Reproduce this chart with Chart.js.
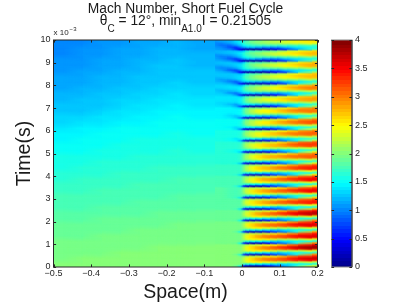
<!DOCTYPE html>
<html><head><meta charset="utf-8">
<script src="https://cdn.jsdelivr.net/npm/chart.js@4"></script>
<style>html,body{margin:0;padding:0;background:#fff}
#wrap{position:relative;width:407px;height:303px;overflow:hidden}
canvas{position:absolute;left:0;top:0;filter:blur(.4px)}</style></head>
<body><div id="wrap"><canvas id="main" width="407" height="303"></canvas><canvas id="bar" width="407" height="303"></canvas></div>
<script>
const xTickValues=[-0.5,-0.4,-0.3,-0.2,-0.1,0,0.1,0.2];
const yTickValues=[0,1,2,3,4,5,6,7,8,9,10];
const barTickValues=[0,0.5,1,1.5,2,2.5,3,3.5,4];
const upstreamSpace=[-0.475,-0.425,-0.375,-0.325,-0.275,-0.225,-0.175,-0.125];
const upstreamRowHeight=0.25;
const upstreamMach=[
[2.00,2.00,2.01,2.01,2.02,2.02,2.03,2.03],[1.99,2.00,2.00,2.01,2.01,2.02,2.02,2.02],[1.98,1.98,1.99,2.00,2.00,2.01,2.01,2.01],[1.96,1.97,1.98,1.99,1.99,2.00,2.00,2.00],
[1.94,1.95,1.96,1.97,1.98,1.99,1.99,1.99],[1.92,1.93,1.94,1.95,1.96,1.97,1.98,1.98],[1.90,1.91,1.92,1.93,1.94,1.95,1.96,1.96],[1.88,1.89,1.90,1.91,1.92,1.93,1.94,1.94],
[1.85,1.86,1.88,1.89,1.90,1.91,1.92,1.92],[1.83,1.84,1.85,1.86,1.87,1.89,1.90,1.90],[1.80,1.81,1.82,1.84,1.85,1.86,1.87,1.87],[1.78,1.79,1.80,1.81,1.82,1.84,1.85,1.85],
[1.75,1.76,1.77,1.79,1.80,1.81,1.82,1.82],[1.73,1.74,1.75,1.76,1.77,1.79,1.80,1.80],[1.70,1.71,1.72,1.74,1.75,1.76,1.77,1.77],[1.68,1.69,1.70,1.71,1.72,1.74,1.75,1.75],
[1.65,1.66,1.67,1.69,1.70,1.71,1.72,1.72],[1.62,1.63,1.65,1.66,1.67,1.69,1.70,1.69],[1.60,1.61,1.63,1.64,1.65,1.67,1.68,1.67],[1.57,1.58,1.60,1.61,1.63,1.64,1.65,1.64],
[1.54,1.56,1.58,1.59,1.61,1.62,1.63,1.62],[1.51,1.53,1.56,1.58,1.59,1.60,1.61,1.60],[1.48,1.51,1.54,1.56,1.57,1.58,1.59,1.58],[1.44,1.48,1.51,1.54,1.55,1.56,1.57,1.56],
[1.40,1.44,1.47,1.50,1.52,1.53,1.54,1.53],[1.36,1.40,1.43,1.46,1.49,1.51,1.52,1.50],[1.32,1.35,1.39,1.43,1.46,1.48,1.50,1.47],[1.28,1.31,1.35,1.39,1.43,1.46,1.47,1.44],
[1.25,1.28,1.31,1.35,1.39,1.43,1.44,1.41],[1.22,1.25,1.28,1.32,1.36,1.40,1.42,1.38],[1.19,1.22,1.25,1.29,1.33,1.37,1.39,1.35],[1.17,1.20,1.23,1.26,1.30,1.34,1.36,1.32],
[1.15,1.18,1.21,1.24,1.27,1.31,1.33,1.30],[1.13,1.16,1.19,1.22,1.25,1.29,1.31,1.28],[1.11,1.14,1.17,1.20,1.23,1.27,1.29,1.26],[1.09,1.12,1.15,1.18,1.21,1.25,1.27,1.24],
[1.07,1.10,1.13,1.16,1.20,1.23,1.25,1.22],[1.05,1.08,1.11,1.15,1.18,1.21,1.23,1.20],[1.04,1.07,1.10,1.13,1.17,1.20,1.21,1.18],[1.03,1.05,1.08,1.12,1.15,1.18,1.19,1.16]];
const downstreamEdges=[-0.1,-0.07,-0.04,-0.02,-0.01,0,0.01,0.02,0.04,0.06,0.08,0.1,0.13,0.16,0.2];
const firstStreakTime=0.057, cyclePeriod=0.5023;
const cycle00=[[2.03,2.03,2,1.9,1.55,.45,.3,.2,.25,.55,.8,1.15,1.7,2.3],[2.03,2.03,2,2,1.95,1.7,1.6,1.5,1.5,1.4,1.4,1.4,1.5,1.6],[2.03,2.03,2,2,2,2.2,2.4,2.5,2.5,2.4,2.3,2.2,2.2,2.3],[2.03,2.03,2,2,2,2.3,2.5,2.7,2.9,3,3.1,3.2,3.4,3.5],[2.03,2.03,2,2,2,2.3,2.5,2.7,2.9,3,3.1,3.3,3.5,3.7],[2.03,2.03,2,2,1.95,2.1,2.3,2.3,2.4,2.5,2.6,2.9,3.2,3.4]];
const cycle01=[[2.01,2.01,2,1.9,1.55,.45,.3,.2,.25,.55,.8,1.1,1.7,2.9],[2.01,2.01,2,2,1.95,1.7,1.6,1.5,1.5,1.4,1.3,1.4,1.5,1.6],[2.01,2.01,2,2,2,2.2,2.4,2.5,2.5,2.5,2.3,2.2,2.3,2.4],[2.01,2.01,2,2,2,2.3,2.5,2.7,2.9,3,3.1,3.3,3.6,3.8],[2.01,2.01,2,2,2,2.3,2.5,2.7,2.9,3,3.2,3.4,3.7,3.9],[2.01,2.01,2,2,1.95,2.1,2.3,2.3,2.4,2.5,2.6,2.9,3.2,3.6]];
const cycle02=[[1.99,1.99,1.98,1.88,1.5,.45,.3,.2,.25,.55,.8,1.1,1.7,2.9],[1.99,1.99,1.98,1.98,1.92,1.7,1.6,1.5,1.5,1.4,1.3,1.4,1.5,1.6],[1.99,1.99,1.98,1.98,1.97,2.2,2.4,2.5,2.5,2.5,2.3,2.2,2.3,2.4],[1.99,1.99,1.98,1.98,1.97,2.3,2.5,2.7,2.9,3,3.1,3.2,3.4,3.6],[1.99,1.99,1.98,1.98,1.97,2.3,2.5,2.7,2.9,3,3.1,3.3,3.5,3.6],[1.99,1.99,1.98,1.98,1.95,2.1,2.3,2.3,2.3,2.4,2.6,2.8,3.1,3.4]];
const cycle03=[[1.96,1.96,1.95,1.85,1.48,.45,.3,.2,.25,.55,.8,1.1,1.7,2.8],[1.96,1.96,1.95,1.95,1.9,1.7,1.6,1.5,1.5,1.4,1.3,1.4,1.5,1.6],[1.96,1.96,1.95,1.95,1.95,2.1,2.3,2.5,2.5,2.4,2.3,2.2,2.3,2.4],[1.96,1.96,1.95,1.95,1.95,2.2,2.5,2.7,2.9,3,3.1,3.2,3.4,3.6],[1.96,1.96,1.95,1.95,1.95,2.2,2.5,2.7,2.9,3,3.1,3.3,3.5,3.6],[1.96,1.96,1.95,1.95,1.9,2.1,2.3,2.3,2.3,2.4,2.6,2.8,3.1,3.4]];
const cycle04=[[1.92,1.92,1.91,1.82,1.45,.45,.3,.2,.25,.55,.8,1.1,1.7,2.9],[1.92,1.92,1.91,1.9,1.85,1.7,1.6,1.5,1.5,1.4,1.3,1.4,1.5,1.6],[1.92,1.92,1.91,1.91,1.91,2.1,2.3,2.5,2.5,2.4,2.3,2.2,2.3,2.4],[1.92,1.92,1.91,1.91,1.91,2.2,2.4,2.7,2.9,3,3.1,3.3,3.5,3.7],[1.92,1.92,1.91,1.91,1.91,2.2,2.4,2.7,2.9,3,3.2,3.4,3.6,3.8],[1.92,1.92,1.91,1.91,1.87,2,2.2,2.3,2.3,2.4,2.6,2.9,3.2,3.5]];
const cycle05=[[1.87,1.87,1.86,1.77,1.42,.45,.3,.2,.25,.55,.8,1.1,1.7,2.7],[1.87,1.87,1.86,1.85,1.8,1.7,1.6,1.5,1.45,1.4,1.3,1.4,1.5,1.6],[1.87,1.87,1.86,1.86,1.87,2.1,2.3,2.4,2.5,2.4,2.3,2.2,2.3,2.4],[1.87,1.87,1.86,1.86,1.87,2.2,2.4,2.6,2.8,2.9,3,3.1,3.3,3.4],[1.87,1.87,1.86,1.86,1.87,2.2,2.4,2.6,2.8,2.9,3,3.2,3.3,3.4],[1.87,1.87,1.86,1.86,1.84,2,2.2,2.2,2.3,2.3,2.5,2.7,3,3.2]];
const cycle06=[[1.82,1.82,1.81,1.72,1.38,.45,.3,.2,.25,.5,.8,1.1,1.7,2.6],[1.82,1.82,1.81,1.8,1.76,1.7,1.6,1.5,1.45,1.4,1.3,1.4,1.5,1.6],[1.82,1.82,1.81,1.81,1.82,2.05,2.25,2.4,2.5,2.4,2.3,2.2,2.3,2.4],[1.82,1.82,1.81,1.81,1.82,2.15,2.35,2.6,2.8,2.9,3,3.1,3.3,3.5],[1.82,1.82,1.81,1.81,1.82,2.15,2.35,2.6,2.8,2.9,3,3.2,3.4,3.5],[1.82,1.82,1.81,1.81,1.79,2,2.15,2.2,2.25,2.3,2.5,2.8,3,3.3]];
const cycle07=[[1.77,1.77,1.76,1.67,1.35,.45,.3,.2,.25,.5,.8,1.1,1.7,2.6],[1.77,1.77,1.76,1.75,1.73,1.7,1.6,1.5,1.45,1.35,1.3,1.4,1.5,1.6],[1.77,1.77,1.76,1.76,1.77,2,2.2,2.4,2.45,2.4,2.3,2.2,2.3,2.4],[1.77,1.77,1.76,1.76,1.77,2.1,2.3,2.55,2.75,2.85,2.95,3.1,3.3,3.5],[1.77,1.77,1.76,1.76,1.77,2.1,2.3,2.55,2.75,2.85,3,3.2,3.4,3.5],[1.77,1.77,1.76,1.76,1.75,1.95,2.1,2.2,2.2,2.3,2.5,2.75,3,3.3]];
const cycle08=[[1.72,1.72,1.71,1.63,1.32,.45,.3,.2,.25,.5,.8,1.1,1.7,2.5],[1.72,1.72,1.71,1.7,1.68,1.65,1.6,1.5,1.45,1.35,1.3,1.4,1.5,1.6],[1.72,1.72,1.71,1.71,1.74,2,2.15,2.35,2.45,2.35,2.25,2.2,2.3,2.4],[1.72,1.72,1.71,1.71,1.74,2.05,2.25,2.5,2.7,2.8,2.9,3.05,3.25,3.4],[1.72,1.72,1.71,1.71,1.74,2.05,2.25,2.5,2.7,2.8,2.95,3.1,3.3,3.4],[1.72,1.72,1.71,1.71,1.71,1.9,2.1,2.15,2.2,2.25,2.45,2.7,2.95,3.2]];
const cycle09=[[1.67,1.67,1.66,1.58,1.28,.45,.3,.2,.25,.45,.75,1.1,1.7,2.4],[1.67,1.67,1.65,1.63,1.63,1.65,1.6,1.5,1.4,1.35,1.3,1.4,1.5,1.65],[1.67,1.67,1.66,1.66,1.7,1.95,2.1,2.3,2.4,2.3,2.2,2.2,2.3,2.3],[1.67,1.67,1.66,1.66,1.7,2,2.2,2.45,2.65,2.75,2.8,2.9,3.05,3.15],[1.67,1.67,1.66,1.66,1.7,2,2.2,2.45,2.65,2.75,2.85,3,3.1,3.15],[1.67,1.67,1.66,1.66,1.67,1.9,2.05,2.15,2.2,2.25,2.4,2.6,2.85,3.05]];
const cycle10=[[1.63,1.63,1.61,1.53,1.25,.45,.3,.2,.25,.45,.7,1.1,1.6,2.4],[1.63,1.63,1.58,1.5,1.55,1.6,1.6,1.5,1.4,1.3,1.3,1.4,1.5,1.7],[1.63,1.63,1.63,1.63,1.7,1.9,2.1,2.3,2.4,2.3,2.2,2.2,2.3,2.3],[1.63,1.63,1.63,1.63,1.7,2,2.2,2.4,2.6,2.7,2.8,2.9,3.1,3.2],[1.63,1.63,1.63,1.63,1.7,2,2.2,2.4,2.6,2.7,2.8,3,3.2,3.3],[1.63,1.63,1.63,1.63,1.65,1.9,2,2.1,2.2,2.3,2.5,2.7,3,3.2]];
const cycle11=[[1.59,1.59,1.56,1.45,1.15,.42,.3,.2,.25,.45,.7,1.1,1.6,2.3],[1.59,1.59,1.52,1.43,1.5,1.6,1.55,1.5,1.4,1.3,1.3,1.4,1.5,1.7],[1.59,1.59,1.57,1.58,1.65,1.85,2.05,2.25,2.35,2.25,2.15,2.2,2.25,2.3],[1.59,1.59,1.58,1.6,1.65,1.95,2.15,2.35,2.55,2.65,2.7,2.85,3,3.1],[1.59,1.59,1.58,1.6,1.65,1.95,2.15,2.35,2.55,2.65,2.75,2.95,3.05,3.15],[1.59,1.59,1.58,1.57,1.58,1.8,2,2.05,2.15,2.25,2.4,2.6,2.85,3.05]];
const cycle12=[[1.53,1.53,1.5,1.37,1.05,.42,.25,.2,.25,.42,.65,1.05,1.6,2.3],[1.53,1.52,1.44,1.34,1.42,1.55,1.55,1.45,1.35,1.3,1.25,1.4,1.5,1.7],[1.53,1.53,1.51,1.52,1.62,1.8,2,2.2,2.3,2.2,2.15,2.2,2.25,2.3],[1.53,1.53,1.52,1.54,1.62,1.9,2.1,2.3,2.5,2.6,2.7,2.85,3,3.15],[1.53,1.53,1.52,1.54,1.62,1.9,2.1,2.3,2.5,2.6,2.75,2.95,3.1,3.2],[1.53,1.53,1.51,1.5,1.52,1.75,1.95,2,2.1,2.2,2.4,2.6,2.85,3.05]];
const cycle13=[[1.47,1.47,1.43,1.28,.95,.4,.25,.2,.25,.42,.65,1.05,1.6,2.2],[1.47,1.45,1.35,1.25,1.36,1.5,1.5,1.45,1.35,1.25,1.25,1.35,1.5,1.65],[1.47,1.46,1.43,1.45,1.56,1.75,1.95,2.1,2.2,2.15,2.1,2.15,2.2,2.3],[1.47,1.47,1.45,1.47,1.56,1.85,2.05,2.25,2.45,2.55,2.6,2.75,2.9,3],[1.47,1.47,1.47,1.47,1.56,1.85,2.05,2.25,2.45,2.55,2.65,2.85,3,3.05],[1.47,1.47,1.45,1.43,1.42,1.7,1.9,1.95,2.05,2.15,2.3,2.5,2.75,2.95]];
const cycle14=[[1.41,1.41,1.35,1.18,.8,.35,.2,.15,.2,.4,.6,1,1.55,2.1],[1.41,1.37,1.2,1.1,1.26,1.45,1.45,1.4,1.3,1.2,1.2,1.35,1.45,1.65],[1.41,1.37,1.35,1.37,1.47,1.7,1.9,2,2.1,2.05,2.05,2.1,2.15,2.2],[1.39,1.4,1.4,1.4,1.51,1.8,2,2.15,2.3,2.4,2.5,2.6,2.75,2.85],[1.41,1.41,1.42,1.42,1.51,1.8,2,2.15,2.35,2.45,2.55,2.7,2.8,2.9],[1.41,1.41,1.4,1.38,1.37,1.65,1.85,1.9,2,2.1,2.2,2.4,2.65,2.8]];
const cycle15=[[1.35,1.33,1.26,1.06,.65,.3,.2,.15,.2,.35,.55,.95,1.5,2.1],[1.35,1.26,1.06,.96,1.16,1.4,1.4,1.35,1.25,1.2,1.15,1.3,1.45,1.65],[1.35,1.21,1.21,1.31,1.42,1.65,1.8,1.95,2,2,2,2.05,2.15,2.2],[1.31,1.31,1.34,1.36,1.47,1.75,1.95,2.1,2.25,2.35,2.45,2.6,2.8,2.95],[1.33,1.36,1.38,1.38,1.47,1.75,1.95,2.1,2.3,2.4,2.5,2.7,2.9,3],[1.35,1.36,1.34,1.31,1.29,1.55,1.8,1.85,1.95,2.05,2.2,2.4,2.65,2.85]];
const cycle16=[[1.3,1.28,1.18,.97,.55,.25,.18,.15,.2,.35,.55,.9,1.45,2],[1.3,1.16,.97,.87,1.07,1.3,1.35,1.3,1.2,1.15,1.1,1.3,1.4,1.6],[1.28,1.11,1.12,1.22,1.37,1.55,1.75,1.85,1.95,1.95,1.95,2,2.05,2.15],[1.23,1.21,1.27,1.32,1.42,1.7,1.85,2,2.15,2.25,2.35,2.45,2.6,2.7],[1.25,1.29,1.31,1.34,1.42,1.7,1.85,2,2.2,2.3,2.4,2.55,2.7,2.8],[1.3,1.31,1.29,1.27,1.22,1.5,1.75,1.8,1.9,2,2.1,2.3,2.5,2.7]];
const cycle17=[[1.26,1.21,1.09,.87,.47,.22,.18,.12,.18,.3,.5,.85,1.4,2],[1.26,1.1,.87,.77,.97,1.2,1.3,1.25,1.15,1.1,1.05,1.25,1.4,1.6],[1.24,1.02,1.02,1.17,1.32,1.55,1.7,1.8,1.85,1.85,1.85,1.95,2.05,2.15],[1.17,1.12,1.22,1.28,1.43,1.65,1.8,1.95,2.1,2.2,2.3,2.45,2.6,2.75],[1.19,1.24,1.27,1.33,1.43,1.65,1.85,2,2.15,2.25,2.35,2.55,2.7,2.85],[1.24,1.27,1.25,1.23,1.23,1.45,1.75,1.8,1.85,1.95,2.1,2.3,2.5,2.7]];
const cycle18=[[1.22,1.17,1.03,.78,.43,.22,.18,.12,.18,.28,.47,.8,1.3,1.9],[1.22,1.05,.83,.73,.93,1.15,1.25,1.2,1.1,1.05,1.05,1.25,1.4,1.6],[1.2,.98,.98,1.13,1.28,1.5,1.65,1.75,1.8,1.8,1.8,1.85,1.95,2.05],[1.12,1.08,1.18,1.28,1.43,1.65,1.8,1.9,2.05,2.15,2.25,2.35,2.55,2.7],[1.14,1.2,1.26,1.33,1.48,1.65,1.85,1.95,2.1,2.2,2.3,2.5,2.65,2.8],[1.19,1.22,1.25,1.28,1.28,1.4,1.7,1.8,1.85,1.95,2.05,2.25,2.45,2.65]];
const cycle19=[[1.18,1.12,.98,.68,.38,.2,.15,.12,.15,.25,.4,.7,1.15,1.7],[1.18,1.02,.78,.68,.88,1.1,1.2,1.2,1.1,1,1,1.2,1.4,1.6],[1.16,.92,.88,1.08,1.28,1.5,1.6,1.7,1.7,1.7,1.7,1.7,1.7,1.8],[1.08,.98,1.13,1.28,1.48,1.7,1.8,1.9,2,2.1,2.1,2.2,2.3,2.4],[1.03,1.13,1.23,1.38,1.58,1.7,1.9,2,2.1,2.2,2.3,2.4,2.5,2.6],[1.12,1.17,1.23,1.33,1.33,1.3,1.7,1.8,1.9,2,2,2.2,2.4,2.5]];
const downstreamCycles=[cycle00,cycle01,cycle02,cycle03,cycle04,cycle05,cycle06,cycle07,cycle08,cycle09,cycle10,cycle11,cycle12,cycle13,cycle14,cycle15,cycle16,cycle17,cycle18,cycle19];
const barLevels=[0.03,0.09,0.16,0.22,0.28,0.34,0.41,0.47,0.53,0.59,0.66,0.72,0.78,0.84,0.91,0.97,1.03,1.09,1.16,1.22,1.28,1.34,1.41,1.47,1.53,1.59,1.66,1.72,1.78,1.84,1.91,1.97,2.03,2.09,2.16,2.22,2.28,2.34,2.41,2.47,2.53,2.59,2.66,2.72,2.78,2.84,2.91,2.97,3.03,3.09,3.16,3.22,3.28,3.34,3.41,3.47,3.53,3.59,3.66,3.72,3.78,3.84,3.91,3.97];

const INK='#262626', FONT='"Liberation Sans",Arial,sans-serif';
function jet(v){
  const i=Math.max(0,Math.min(63,Math.floor(v/4*64))), p=(i+.5)/64;
  const c=a=>Math.round(255*Math.max(0,Math.min(1,1.5-Math.abs(4*p-a))));
  return 'rgb('+c(3)+','+c(2)+','+c(1)+')';
}
const cache={};
function cellImage(ctx){
  const r=ctx.raw; if(!r) return 'rect';
  const sx=ctx.chart.scales.x, sy=ctx.chart.scales.y;
  const dist=(s,a,b)=>Math.abs(s.getPixelForValue(a)-s.getPixelForValue(b));
  const dl=dist(sx,r.x,r.x-r.dl), dr=dist(sx,r.x,r.x+r.dr), dd=dist(sy,r.y,r.y-r.dd), du=dist(sy,r.y,r.y+r.du);
  if(!isFinite(dl+dr+dd+du)||dl+dr<=0||dd+du<=0) return 'rect';
  const hw=Math.ceil(Math.max(dl,dr))+1, hh=Math.ceil(Math.max(dd,du))+1;
  const col=jet(r.v), key=[col,hw,hh,r.flat?1:0,r.rampX?1:0,r.rampY?1:0,Math.round(dl*4),Math.round(dd*4)].join('|');
  if(!cache[key]){
    const c=document.createElement('canvas');c.width=2*hw;c.height=2*hh;
    const g=c.getContext('2d');g.fillStyle=col;g.fillRect(0,0,2*hw,2*hh);
    if(!r.flat){
      g.globalCompositeOperation='destination-in';
      if(r.rampX){const a=g.createLinearGradient(hw-dl,0,hw,0);a.addColorStop(0,'rgba(0,0,0,0)');a.addColorStop(1,'rgba(0,0,0,1)');g.fillStyle=a;g.fillRect(0,0,2*hw,2*hh);}
      if(r.rampY){const b=g.createLinearGradient(0,hh+dd,0,hh);b.addColorStop(0,'rgba(0,0,0,0)');b.addColorStop(1,'rgba(0,0,0,1)');g.fillStyle=b;g.fillRect(0,0,2*hw,2*hh);}
    }
    cache[key]=c;
  }
  return cache[key];
}
const upstreamCells=[];
upstreamMach.forEach((row,i)=>row.forEach((v,j)=>upstreamCells.push({x:upstreamSpace[j],y:(i+.5)*upstreamRowHeight,dl:.05,dr:.05,dd:upstreamRowHeight,du:upstreamRowHeight,rampX:j>0,rampY:i>0,v})));
const downstreamCenters=downstreamEdges.slice(0,-1).map((a,j)=>(a+downstreamEdges[j+1])/2);
const downstreamCells=[];
const dt=cyclePeriod/6;
downstreamCycles.forEach((cy,k)=>cy.forEach((row,r)=>row.forEach((v,j)=>{
  const xc=downstreamCenters[j], prev=j?downstreamCenters[j-1]:upstreamSpace[upstreamSpace.length-1], next=j<13?downstreamCenters[j+1]:0.2;
  downstreamCells.push({x:xc,y:firstStreakTime+(k+r/6)*cyclePeriod,dl:xc-prev,dr:next-xc,dd:dt,du:dt,rampX:true,rampY:k+r>0,v});
})));
const barCells=barLevels.map(v=>({x:.5,y:v,dl:.5,dr:.5,dd:.03125,du:.03125,flat:true,v}));
const cellSet=(label,data)=>({label,data,pointStyle:cellImage,pointRadius:24,borderWidth:0,showLine:false});
function inwardTicks(ctx,scale,area){
  ctx.beginPath();
  scale.ticks.forEach(t=>{
    const p=Math.round(scale.getPixelForValue(t.value))+.5, L=2.6;
    if(scale.isHorizontal()){ctx.moveTo(p,area.bottom);ctx.lineTo(p,area.bottom-L);ctx.moveTo(p,area.top);ctx.lineTo(p,area.top+L);}
    else{ctx.moveTo(area.left,p);ctx.lineTo(area.left+L,p);ctx.moveTo(area.right,p);ctx.lineTo(area.right-L,p);}
  });
  ctx.stroke();
}
const frame={id:'frame',afterDatasetsDraw(ch){
  const c=ch.ctx,a=ch.chartArea;c.save();c.strokeStyle=INK;c.lineWidth=1;
  c.strokeRect(a.left,a.top,a.right-a.left,a.bottom-a.top);
  inwardTicks(c,ch.scales.x,a);inwardTicks(c,ch.scales.y,a);
  c.fillStyle='#1a1a1a';c.textBaseline='alphabetic';
  const run=(parts,baseY)=>{
    let W=0;parts.forEach(p=>{c.font=p[1]+'px '+FONT;W+=c.measureText(p[0]).width;});
    let X=185.5-W/2;c.textAlign='left';
    parts.forEach(p=>{c.font=p[1]+'px '+FONT;c.fillText(p[0],X,baseY+p[2]);X+=c.measureText(p[0]).width;});
  };
  run([['Mach Number, Short Fuel Cycle',13.8,0]],12.7);
  run([['θ',13.8,0],['C',10,7.3],[' = 12°, min',13.8,0],['A1.0',10,7.3],['I = 0.21505',13.8,0]],25);
  c.textAlign='left';c.fillStyle=INK;
  c.font='8px '+FONT;c.fillText('x 10',53.5,35.3);
  const xw=c.measureText('x 10').width;c.font='6px '+FONT;c.fillText('−3',53.5+xw+1,31.3);
  c.restore();
}};
new Chart(document.getElementById('main'),{type:'scatter',plugins:[frame],
 data:{datasets:[cellSet('Mach upstream',upstreamCells),cellSet('Mach downstream',downstreamCells)]},
 options:{responsive:false,animation:false,events:[],layout:{padding:{top:40,right:89.5,left:0,bottom:0}},
  plugins:{legend:{display:false},tooltip:{enabled:false}},
  scales:{
   x:{type:'linear',min:-0.5,max:0.2,afterBuildTicks(s){s.ticks=xTickValues.map(value=>({value}));},afterFit(s){s.height=36;},
      grid:{display:false,drawTicks:false},border:{display:false},
      ticks:{autoSkip:false,maxRotation:0,padding:1,color:INK,font:{size:9,family:FONT},callback:v=>v===0?'0':(v<0?'−':'')+Math.abs(v).toFixed(1)},
      title:{display:true,text:'Space(m)',color:'#1a1a1a',font:{size:19.5,family:FONT,lineHeight:1},padding:{top:0,bottom:1}}},
   y:{type:'linear',min:0,max:10,afterBuildTicks(s){s.ticks=yTickValues.map(value=>({value}));},afterFit(s){s.width=53.5;},
      grid:{display:false,drawTicks:false},border:{display:false},
      ticks:{autoSkip:false,padding:3,color:INK,font:{size:9,family:FONT},callback:v=>String(v)},
      title:{display:true,text:'Time(s)',color:'#1a1a1a',font:{size:19.5,family:FONT,lineHeight:1},padding:{top:15,bottom:0}}}
  }}});
const barFrame={id:'barFrame',afterDatasetsDraw(ch){
  const c=ch.ctx,a=ch.chartArea;c.save();c.lineWidth=1;
  c.strokeStyle='#8a8a8a';c.strokeRect(a.left,a.top,a.right-a.left,a.bottom-a.top);
  c.strokeStyle=INK;c.beginPath();c.moveTo(a.right,a.top);c.lineTo(a.right,a.bottom);c.stroke();
  inwardTicks(c,ch.scales.y,a);c.restore();
}};
new Chart(document.getElementById('bar'),{type:'scatter',plugins:[barFrame],
 data:{datasets:[cellSet('Colour scale',barCells)]},
 options:{responsive:false,animation:false,events:[],layout:{padding:{top:40,left:331.5,right:0,bottom:36}},
  plugins:{legend:{display:false},tooltip:{enabled:false}},
  scales:{
   x:{type:'linear',min:0,max:1,display:false},
   y:{type:'linear',position:'right',min:0,max:4,afterBuildTicks(s){s.ticks=barTickValues.map(value=>({value}));},afterFit(s){s.width=55;},
      grid:{display:false,drawTicks:false},border:{display:false},
      ticks:{autoSkip:false,padding:3,color:INK,font:{size:9,family:FONT},callback:v=>String(v)}}
  }}});
</script></body></html>
